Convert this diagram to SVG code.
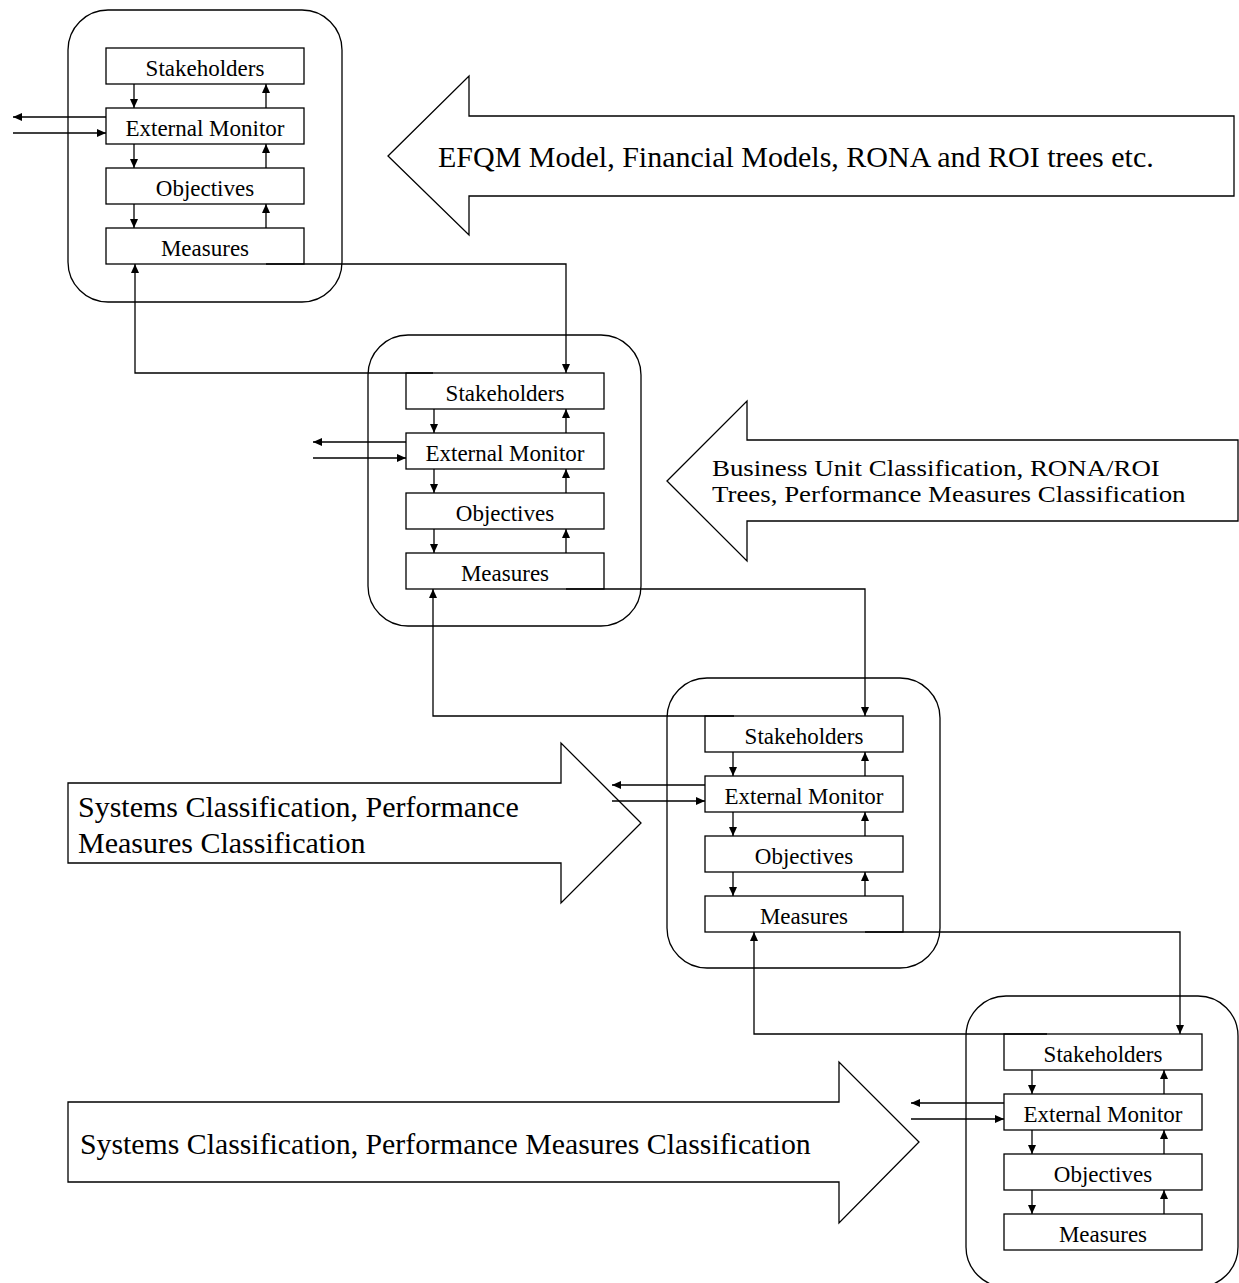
<svg xmlns="http://www.w3.org/2000/svg" width="1239" height="1283" viewBox="0 0 1239 1283">
  <style>
    .frame { fill: none; stroke: #000; stroke-width: 1.3; }
    .box { fill: #fff; stroke: #000; stroke-width: 1.3; }
    .big { fill: #fff; stroke: #000; stroke-width: 1.3; stroke-linejoin: miter; }
    .lbl { font-family: "Liberation Serif", "Times New Roman", serif; font-size: 23px; fill: #000; text-anchor: middle; }
    .big-txt { font-family: "Liberation Serif", "Times New Roman", serif; fill: #000; }
    .wire { fill: none; stroke: #000; stroke-width: 1.3; marker-end: url(#head); }
  </style>
  <defs>
    <marker id="head" markerUnits="userSpaceOnUse" markerWidth="10" markerHeight="9" refX="9" refY="4" orient="auto">
      <path d="M0,0 L9,4 L0,8 z" fill="#000"/>
    </marker>
  </defs>
  <rect width="1239" height="1283" fill="#fff"/>

  <!-- large input arrows carrying the model sources -->
  <g id="input-efqm">
    <polygon class="big" points="388,156 469,76 469,116 1234,116 1234,196 469,196 469,235"/>
    <text class="big-txt" x="438" y="167" font-size="30">EFQM Model, Financial Models, RONA and ROI trees etc.</text>
  </g>
  <g id="input-business-unit">
    <polygon class="big" points="667,481 747,401 747,440 1238,440 1238,521 747,521 747,561"/>
    <text class="big-txt" font-size="24" transform="translate(712,0) scale(1.12,1)"><tspan x="0" y="476">Business Unit Classification, RONA/ROI</tspan><tspan x="0" y="502">Trees, Performance Measures Classification</tspan></text>
  </g>
  <g id="input-systems-1">
    <polygon class="big" points="68,783 561,783 561,743 641,823 561,903 561,863 68,863"/>
    <text class="big-txt" font-size="30"><tspan x="78" y="817">Systems Classification, Performance</tspan><tspan x="78" y="853">Measures Classification</tspan></text>
  </g>
  <g id="input-systems-2">
    <polygon class="big" points="68,1102 839,1102 839,1062 919,1142 839,1223 839,1182 68,1182"/>
    <text class="big-txt" x="80" y="1154" font-size="29.8">Systems Classification, Performance Measures Classification</text>
  </g>

  <!-- level 1 -->
  <g id="level-1" transform="translate(68,10)">
    <rect class="frame" x="0" y="0" width="274" height="292" rx="40" ry="40"/>
    <g id="l1-stakeholders"><rect class="box" x="38" y="38" width="198" height="36"/><text class="lbl" x="137" y="66">Stakeholders</text></g>
    <g id="l1-external-monitor"><rect class="box" x="38" y="98" width="198" height="36"/><text class="lbl" x="137" y="126">External Monitor</text></g>
    <g id="l1-objectives"><rect class="box" x="38" y="158" width="198" height="36"/><text class="lbl" x="137" y="186">Objectives</text></g>
    <g id="l1-measures"><rect class="box" x="38" y="218" width="198" height="36"/><text class="lbl" x="137" y="246">Measures</text></g>
  </g>

  <!-- level 2 -->
  <g id="level-2" transform="translate(368,335)">
    <rect class="frame" x="0" y="0" width="273" height="291" rx="40" ry="40"/>
    <g id="l2-stakeholders"><rect class="box" x="38" y="38" width="198" height="36"/><text class="lbl" x="137" y="66">Stakeholders</text></g>
    <g id="l2-external-monitor"><rect class="box" x="38" y="98" width="198" height="36"/><text class="lbl" x="137" y="126">External Monitor</text></g>
    <g id="l2-objectives"><rect class="box" x="38" y="158" width="198" height="36"/><text class="lbl" x="137" y="186">Objectives</text></g>
    <g id="l2-measures"><rect class="box" x="38" y="218" width="198" height="36"/><text class="lbl" x="137" y="246">Measures</text></g>
  </g>

  <!-- level 3 -->
  <g id="level-3" transform="translate(667,678)">
    <rect class="frame" x="0" y="0" width="273" height="290" rx="40" ry="40"/>
    <g id="l3-stakeholders"><rect class="box" x="38" y="38" width="198" height="36"/><text class="lbl" x="137" y="66">Stakeholders</text></g>
    <g id="l3-external-monitor"><rect class="box" x="38" y="98" width="198" height="36"/><text class="lbl" x="137" y="126">External Monitor</text></g>
    <g id="l3-objectives"><rect class="box" x="38" y="158" width="198" height="36"/><text class="lbl" x="137" y="186">Objectives</text></g>
    <g id="l3-measures"><rect class="box" x="38" y="218" width="198" height="36"/><text class="lbl" x="137" y="246">Measures</text></g>
  </g>

  <!-- level 4 -->
  <g id="level-4" transform="translate(966,996)">
    <rect class="frame" x="0" y="0" width="272" height="291" rx="40" ry="40"/>
    <g id="l4-stakeholders"><rect class="box" x="38" y="38" width="198" height="36"/><text class="lbl" x="137" y="66">Stakeholders</text></g>
    <g id="l4-external-monitor"><rect class="box" x="38" y="98" width="198" height="36"/><text class="lbl" x="137" y="126">External Monitor</text></g>
    <g id="l4-objectives"><rect class="box" x="38" y="158" width="198" height="36"/><text class="lbl" x="137" y="186">Objectives</text></g>
    <g id="l4-measures"><rect class="box" x="38" y="218" width="198" height="36"/><text class="lbl" x="137" y="246">Measures</text></g>
  </g>

  <g id="connectors">
    <!-- level 1 internal flow -->
    <line class="wire" x1="134" y1="84" x2="134" y2="108"/>
    <line class="wire" x1="134" y1="144" x2="134" y2="168"/>
    <line class="wire" x1="134" y1="204" x2="134" y2="228"/>
    <line class="wire" x1="266" y1="108" x2="266" y2="84"/>
    <line class="wire" x1="266" y1="168" x2="266" y2="144"/>
    <line class="wire" x1="266" y1="228" x2="266" y2="204"/>
    <line class="wire" x1="106" y1="117" x2="13" y2="117"/>
    <line class="wire" x1="13" y1="133" x2="106" y2="133"/>

    <!-- level 2 internal flow -->
    <line class="wire" x1="434" y1="409" x2="434" y2="433"/>
    <line class="wire" x1="434" y1="469" x2="434" y2="493"/>
    <line class="wire" x1="434" y1="529" x2="434" y2="553"/>
    <line class="wire" x1="566" y1="433" x2="566" y2="409"/>
    <line class="wire" x1="566" y1="493" x2="566" y2="469"/>
    <line class="wire" x1="566" y1="553" x2="566" y2="529"/>
    <line class="wire" x1="406" y1="442" x2="313" y2="442"/>
    <line class="wire" x1="313" y1="458" x2="406" y2="458"/>

    <!-- level 3 internal flow -->
    <line class="wire" x1="733" y1="752" x2="733" y2="776"/>
    <line class="wire" x1="733" y1="812" x2="733" y2="836"/>
    <line class="wire" x1="733" y1="872" x2="733" y2="896"/>
    <line class="wire" x1="865" y1="776" x2="865" y2="752"/>
    <line class="wire" x1="865" y1="836" x2="865" y2="812"/>
    <line class="wire" x1="865" y1="896" x2="865" y2="872"/>
    <line class="wire" x1="705" y1="785" x2="612" y2="785"/>
    <line class="wire" x1="612" y1="801" x2="705" y2="801"/>

    <!-- level 4 internal flow -->
    <line class="wire" x1="1032" y1="1070" x2="1032" y2="1094"/>
    <line class="wire" x1="1032" y1="1130" x2="1032" y2="1154"/>
    <line class="wire" x1="1032" y1="1190" x2="1032" y2="1214"/>
    <line class="wire" x1="1164" y1="1094" x2="1164" y2="1070"/>
    <line class="wire" x1="1164" y1="1154" x2="1164" y2="1130"/>
    <line class="wire" x1="1164" y1="1214" x2="1164" y2="1190"/>
    <line class="wire" x1="1004" y1="1103" x2="911" y2="1103"/>
    <line class="wire" x1="911" y1="1119" x2="1004" y2="1119"/>

    <!-- measures feed down to the next level's stakeholders -->
    <polyline class="wire" points="266,264 566,264 566,373"/>
    <polyline class="wire" points="566,589 865,589 865,716"/>
    <polyline class="wire" points="865,932 1180,932 1180,1034"/>

    <!-- feedback up to the previous level's measures -->
    <polyline class="wire" points="433,373 135,373 135,264"/>
    <polyline class="wire" points="734,716 433,716 433,589"/>
    <polyline class="wire" points="1047,1034 754,1034 754,932"/>
  </g>
</svg>
